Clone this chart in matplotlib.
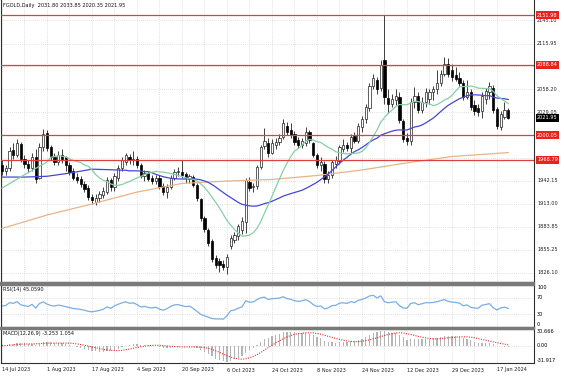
import numpy as np
import pandas as pd
import matplotlib
matplotlib.use("Agg")
import matplotlib.pyplot as plt
import matplotlib.transforms as mtransforms
from matplotlib.patches import Rectangle

# daily candles, 14 Jul 2023 .. 22 Jan 2024 (one per bar)
opens = [1962, 1955, 1958, 1981, 1975, 1989, 1970, 1963, 1958, 1973,
         1946, 1985, 2003, 1985, 1972, 1966, 1975, 1972, 1962, 1955,
         1947, 1944, 1938, 1933, 1922, 1916, 1921, 1924, 1928, 1943,
         1934, 1946, 1958, 1966, 1972, 1968, 1970, 1962, 1948, 1952,
         1946, 1942, 1946, 1936, 1928, 1935, 1946, 1953, 1954, 1951,
         1944, 1947, 1937, 1919, 1895, 1880, 1866, 1845, 1841, 1837,
         1833, 1860, 1868, 1872, 1880, 1890, 1941, 1934, 1936, 1960,
         1986, 1990, 1978, 1988, 1992, 1998, 2012, 2006, 2002, 1994,
         1988, 1990, 2004, 1990, 1975, 1962, 1963, 1944, 1950, 1964,
         1967, 1983, 1988, 1984, 1999, 1993, 2010, 2020, 2035, 2062,
         2070, 2060, 2095, 2047, 2040, 2044, 2048, 2018, 1997, 1993,
         2042, 2050, 2032, 2042, 2046, 2054, 2058, 2066, 2078, 2090,
         2082, 2076, 2072, 2066, 2048, 2054, 2038, 2034, 2030, 2046,
         2054, 2060, 2033, 2010, 2023, 2031.80]
highs = [1968, 1962, 1985, 1990, 1995, 1992, 1975, 1968, 1978, 1982,
         1990, 2008, 2006, 1988, 1978, 1980, 1982, 1974, 1966, 1958,
         1952, 1948, 1942, 1937, 1926, 1925, 1929, 1934, 1947, 1946,
         1952, 1962, 1972, 1978, 1976, 1980, 1974, 1965, 1956, 1955,
         1950, 1950, 1949, 1940, 1938, 1950, 1957, 1960, 1968, 1953,
         1951, 1950, 1940, 1921, 1898, 1883, 1869, 1848, 1845, 1842,
         1850, 1874, 1878, 1888, 1896, 1946, 1947, 1940, 1962, 1988,
         2009, 1996, 1995, 1997, 2002, 2020, 2017, 2016, 2005, 1998,
         1997, 2010, 2006, 1992, 1978, 1972, 1967, 1955, 1969, 1974,
         1988, 1995, 1992, 2002, 2004, 2015, 2024, 2040, 2066, 2078,
         2074, 2095, 2151.98, 2058, 2052, 2058, 2054, 2021, 2003, 2047,
         2061, 2055, 2048, 2060, 2058, 2062, 2082, 2082, 2099, 2098,
         2090, 2086, 2080, 2070, 2070, 2058, 2045, 2040, 2054, 2060,
         2067, 2064, 2036, 2030, 2042, 2033.85]
lows = [1950, 1950, 1955, 1970, 1972, 1966, 1958, 1953, 1955, 1940,
        1944, 1980, 1980, 1968, 1962, 1962, 1965, 1955, 1950, 1943,
        1940, 1935, 1928, 1918, 1913, 1912, 1915, 1920, 1925, 1930,
        1930, 1942, 1955, 1962, 1964, 1962, 1958, 1946, 1942, 1942,
        1938, 1938, 1932, 1924, 1920, 1932, 1943, 1948, 1946, 1940,
        1940, 1935, 1917, 1892, 1877, 1860, 1840, 1832, 1827, 1829,
        1825, 1856, 1864, 1868, 1875, 1876, 1930, 1928, 1932, 1957,
        1982, 1972, 1976, 1982, 1988, 1995, 2000, 1996, 1988, 1984,
        1984, 1986, 1990, 1972, 1958, 1955, 1939, 1940, 1946, 1958,
        1963, 1979, 1980, 1978, 1990, 1990, 2004, 2016, 2030, 2058,
        2052, 2056, 2040, 2028, 2036, 2038, 2015, 1992, 1988, 1988,
        2035, 2028, 2028, 2036, 2040, 2045, 2052, 2062, 2075, 2074,
        2068, 2068, 2062, 2044, 2046, 2032, 2026, 2024, 2022, 2040,
        2046, 2028, 2008, 2006, 2020, 2020.35]
closes = [1955, 1958, 1980, 1975, 1990, 1970, 1963, 1958, 1973, 1945,
          1985, 2002, 1984, 1972, 1966, 1975, 1970, 1962, 1953, 1946,
          1943, 1938, 1932, 1922, 1918, 1921, 1925, 1930, 1943, 1934,
          1948, 1958, 1968, 1975, 1968, 1970, 1962, 1948, 1952, 1945,
          1942, 1946, 1935, 1928, 1935, 1946, 1954, 1955, 1950, 1946,
          1948, 1937, 1920, 1895, 1881, 1864, 1843, 1836, 1836, 1833,
          1846, 1870, 1874, 1885, 1892, 1943, 1933, 1936, 1960, 1985,
          1993, 1978, 1990, 1992, 1997, 2015, 2004, 2000, 1992, 1988,
          1993, 2004, 1994, 1975, 1962, 1966, 1944, 1950, 1966, 1968,
          1985, 1988, 1984, 1998, 1993, 2012, 2020, 2036, 2062, 2072,
          2058, 2089, 2048, 2040, 2046, 2050, 2019, 1995, 1993, 2042,
          2050, 2032, 2042, 2055, 2054, 2058, 2066, 2078, 2090, 2078,
          2073, 2071, 2066, 2048, 2055, 2036, 2031, 2029, 2050, 2056,
          2062, 2032, 2012, 2027, 2032, 2021.95]

# moving averages where the chart's window starts before the first bar
ma14_head_bar = [0, 6, 12]
ma14_head_val = [1933, 1950, 1966]
ma30_head_bar = [0, 6, 12, 18, 24]
ma30_head_val = [1947, 1947, 1948, 1952, 1957]
# slow (200) average, read every 12 bars plus the last bar
ma200_bar = [0, 12, 24, 36, 48, 60, 72, 84, 96, 108, 120, 135]
ma200_val = [1882, 1899, 1913, 1928, 1939, 1942, 1944, 1949, 1956, 1965, 1973, 1978]

date_labels = ["14 Jul 2023", "1 Aug 2023", "17 Aug 2023", "4 Sep 2023",
               "20 Sep 2023", "6 Oct 2023", "24 Oct 2023", "8 Nov 2023",
               "24 Nov 2023", "12 Dec 2023", "29 Dec 2023", "17 Jan 2024"]
price_ticks = [1826.10, 1855.25, 1883.85, 1913.00, 1942.15, 1971.30,
               1999.90, 2029.05, 2058.20, 2087.35, 2115.95, 2145.10]
levels = [2151.98, 2088.84, 2000.05, 1968.79]
last_price = 2021.95
title = "FGOLD,Daily  2031.80 2033.85 2020.35 2021.95"
rsi_title = "RSI(14) 45.0590"
macd_title = "MACD(12,26,9) -3.253 1.054"
macd_range = (-31.917, 30.666)

o = np.array(opens, float)
h = np.array(highs, float)
l = np.array(lows, float)
c = np.array(closes, float)
n = len(c)
x = np.arange(n)

cs = pd.Series(c)


def sma_line(period, head_bar, head_val):
    full = cs.rolling(period).mean().to_numpy()
    return (np.r_[head_bar, x[period - 1:]], np.r_[head_val, full[period - 1:]])


ma14_x, ma14_y = sma_line(14, ma14_head_bar, ma14_head_val)
ma30_x, ma30_y = sma_line(30, ma30_head_bar, ma30_head_val)

# Wilder RSI, seeded with neutral average gain/loss
delta = np.diff(c, prepend=c[0])
seed = np.abs(delta[1:]).mean() / 2
ag, al = seed, seed
rsi = np.empty(n)
for i in range(n):
    ag = (ag * 13 + max(delta[i], 0)) / 14
    al = (al * 13 + max(-delta[i], 0)) / 14
    rsi[i] = 100 - 100 / (1 + ag / al)

macd = cs.ewm(span=12, adjust=False).mean() - cs.ewm(span=26, adjust=False).mean()
signal = macd.rolling(9, min_periods=1).mean()

W, H = 564, 376
FS = 3.6
GRID = dict(color="#c4c4c4", lw=0.5, ls=(0, (1, 2)))

fig = plt.figure(figsize=(W / 100, H / 100), dpi=100)
fig.patch.set_facecolor("white")


def px_axes(x0, y0, x1, y1):
    return fig.add_axes([x0 / W, 1 - y1 / H, (x1 - x0) / W, (y1 - y0) / H])


ax = px_axes(1, 0, 534, 282)
ax_rsi = px_axes(1, 285, 534, 327)
ax_macd = px_axes(1, 329, 534, 363)

xlim = (-1 / 3.75, 532 / 3.75)
for a in (ax, ax_rsi, ax_macd):
    a.set_xlim(*xlim)
    a.set_xticks([])
    a.set_yticks([])
    for s in a.spines.values():
        s.set_color("#303030")
        s.set_linewidth(0.8)
    for i in range(0, n, 6):
        a.axvline(i, zorder=0, **GRID)
ax.spines["top"].set_visible(False)

# separators between the sub windows
for y0, y1 in [(282, 285), (327, 329)]:
    fig.patches.append(Rectangle((0, 1 - y1 / H), 534 / W, (y1 - y0) / H,
                                 transform=fig.transFigure, color="#7a7a7a", zorder=5))

# ---- price window
ax.set_ylim(2171 - 1.265 * 282, 2171)
for p in price_ticks:
    ax.axhline(p, zorder=0, **GRID)

bull = c >= o
body_lo = np.minimum(o, c)
body_h = np.maximum(np.abs(c - o), 0.9)
ax.vlines(x, l, h, color="#202020", lw=0.6, zorder=2)
ax.bar(x[bull], body_h[bull], bottom=body_lo[bull], width=0.62,
       color="white", edgecolor="#202020", lw=0.5, zorder=3)
ax.bar(x[~bull], body_h[~bull], bottom=body_lo[~bull], width=0.62,
       color="#000000", edgecolor="#000000", lw=0.5, zorder=3)

ax.plot(ma200_bar, ma200_val, color="#e8b488", lw=0.9, zorder=4)
ax.plot(ma30_x, ma30_y, color="#4646d6", lw=0.9, zorder=4)
ax.plot(ma14_x, ma14_y, color="#86cfa6", lw=0.9, zorder=4)

for lv in levels:
    ax.axhline(lv, color="#e0403c", lw=0.9, zorder=4)

rt = mtransforms.blended_transform_factory(ax.transAxes, ax.transData)
xr = (537 - 1) / 533
boxed = levels + [last_price]
for p in price_ticks:
    # labels that sit under a level box are hidden on the chart
    if min(abs(p - b) for b in boxed) < 5:
        continue
    ax.text(xr, p, f"{p:.2f}", transform=rt, fontsize=FS, va="center",
            ha="left", color="#202020", clip_on=False)
for lv in levels:
    ax.text(xr, lv, f"{lv:.2f}", transform=rt, fontsize=FS, va="center",
            ha="left", color="white", clip_on=False, zorder=10,
            bbox=dict(boxstyle="square,pad=0.3", fc="#e8231d", ec="none"))
ax.text(xr, last_price, f"{last_price:.2f}", transform=rt, fontsize=FS,
        va="center", ha="left", color="white", clip_on=False, zorder=10,
        bbox=dict(boxstyle="square,pad=0.3", fc="#000000", ec="none"))

ax.text(2 / 533, 1 - 5 / 282, title, transform=ax.transAxes, fontsize=FS,
        va="center", ha="left", color="#101010")

# ---- RSI window
ax_rsi.set_ylim(0, 100)
for lv in (70, 30):
    ax_rsi.axhline(lv, zorder=0, **GRID)
ax_rsi.plot(x, rsi, color="#78aee6", lw=0.9)
ax_rsi.text(2 / 533, 0.9, rsi_title, transform=ax_rsi.transAxes, fontsize=FS,
            va="center", ha="left", color="#101010")
rr = mtransforms.blended_transform_factory(ax_rsi.transAxes, ax_rsi.transData)
ax_rsi.text(xr, 100, "100", transform=rr, fontsize=FS, va="top", ha="left", clip_on=False)
ax_rsi.text(xr, 70, "70", transform=rr, fontsize=FS, va="center", ha="left", clip_on=False)
ax_rsi.text(xr, 30, "30", transform=rr, fontsize=FS, va="center", ha="left", clip_on=False)
ax_rsi.text(xr, 0, "0", transform=rr, fontsize=FS, va="bottom", ha="left", clip_on=False)

# ---- MACD window
ax_macd.set_ylim(*macd_range)
ax_macd.axhline(0, zorder=0, **GRID)
ax_macd.bar(x, macd, width=0.28, color="#b4b4b4", zorder=2)
ax_macd.plot(x, signal, color="#e0302c", lw=0.8, ls=(0, (1, 1.2)), zorder=3)
ax_macd.text(2 / 533, 0.86, macd_title, transform=ax_macd.transAxes, fontsize=FS,
             va="center", ha="left", color="#101010")
mr = mtransforms.blended_transform_factory(ax_macd.transAxes, ax_macd.transData)
ax_macd.text(xr, macd_range[1], f"{macd_range[1]:.3f}", transform=mr, fontsize=FS,
             va="top", ha="left", clip_on=False)
ax_macd.text(xr, 0, "0.00", transform=mr, fontsize=FS, va="center", ha="left", clip_on=False)
ax_macd.text(xr, macd_range[0], f"{macd_range[0]:.3f}", transform=mr, fontsize=FS,
             va="bottom", ha="left", clip_on=False)

# ---- time scale
dt = mtransforms.blended_transform_factory(ax_macd.transData, fig.transFigure)
for k, lab in enumerate(date_labels):
    ax_macd.text(k * 12, 1 - 370 / H, lab, transform=dt, fontsize=FS,
                 va="center", ha="left", color="#202020", clip_on=False)

fig.savefig("out.png", dpi=100)
